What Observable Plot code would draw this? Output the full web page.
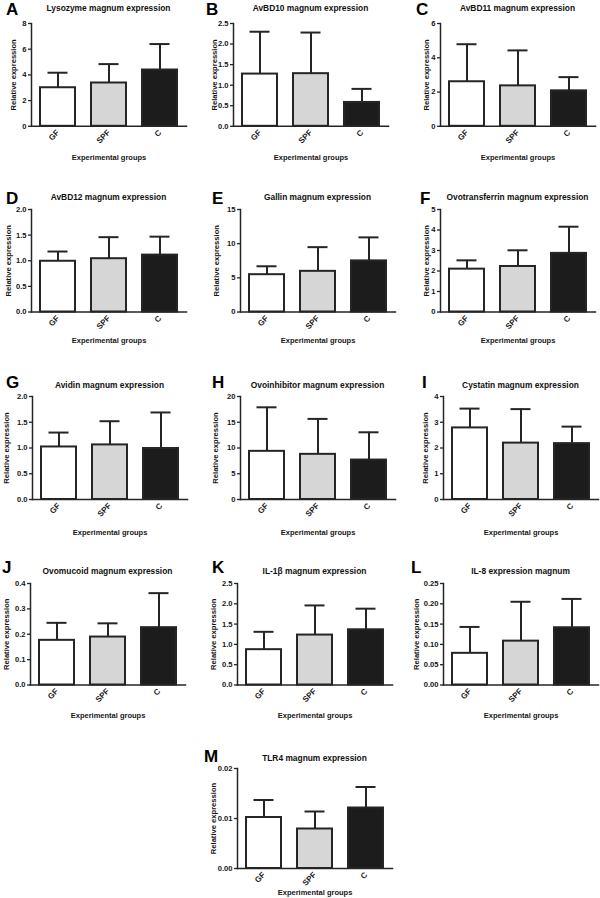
<!DOCTYPE html>
<html><head><meta charset="utf-8">
<script src="https://cdn.jsdelivr.net/npm/d3@7"></script>
<script src="https://cdn.jsdelivr.net/npm/@observablehq/plot@0.6"></script>
<style>
body{margin:0;background:#fff;}
#root{position:relative;width:600px;height:898px;overflow:hidden;font-family:"Liberation Sans",Arial,sans-serif;background:#fff;}
.panel{position:absolute;}
.letter{position:absolute;font-weight:bold;font-size:17px;line-height:17px;color:#000;}
.title{position:absolute;font-weight:bold;font-size:8.4px;line-height:9px;white-space:nowrap;transform:translateX(-50%);color:#111;}
</style></head><body><div id="root"></div>
<script>
// ---- data ----
const groups = ["GF", "SPF", "C"];
const letters = ["A","B","C","D","E","F","G","H","I","J","K","L","M"];
const titles = [
  "Lysozyme magnum expression",
  "AvBD10 magnum expression",
  "AvBD11 magnum expression",
  "AvBD12 magnum expression",
  "Gallin magnum expression",
  "Ovotransferrin magnum expression",
  "Avidin magnum expression",
  "Ovoinhibitor magnum expression",
  "Cystatin magnum expression",
  "Ovomucoid magnum expression",
  "IL-1\u03B2 magnum expression",
  "IL-8 expression magnum",
  "TLR4 magnum expression"
];
// mean per group (GF, SPF, C)
const means = [
  [3.00, 3.37, 4.38],
  [1.27, 1.28, 0.58],
  [2.60, 2.36, 2.07],
  [0.99, 1.04, 1.11],
  [5.46, 5.95, 7.48],
  [2.09, 2.22, 2.86],
  [1.02, 1.06, 0.99],
  [9.35, 8.77, 7.66],
  [2.78, 2.19, 2.17],
  [0.176, 0.189, 0.226],
  [0.87, 1.23, 1.36],
  [0.078, 0.108, 0.141],
  [0.0102, 0.0079, 0.0121]
];
// upper end of error bar (mean + SD)
const uppers = [
  [4.17, 4.84, 6.40],
  [2.30, 2.28, 0.91],
  [4.79, 4.43, 2.87],
  [1.18, 1.46, 1.47],
  [6.69, 9.49, 10.92],
  [2.52, 3.01, 4.16],
  [1.30, 1.52, 1.69],
  [17.9, 15.65, 13.05],
  [3.53, 3.51, 2.83],
  [0.245, 0.243, 0.362],
  [1.31, 1.96, 1.88],
  [0.143, 0.205, 0.212],
  [0.0137, 0.0114, 0.0163]
];
const yMaxes   = [8, 2.5, 6, 2, 15, 5, 2, 20, 4, 0.4, 2.5, 0.25, 0.02];
const ySteps   = [2, 0.5, 2, 0.5, 5, 1, 0.5, 5, 1, 0.1, 0.5, 0.05, 0.01];
const yDecimals= [0, 1, 0, 1, 0, 0, 1, 0, 0, 1, 1, 2, 2];
const yLabel = "Relative expression";
const xLabel = "Experimental groups";

// ---- layout (not data) ----
const panelCol = [0,1,2,0,1,2,0,1,2,0,1,2,1];
const panelRow = [0,0,0,1,1,1,2,2,2,3,3,3,4];
const axisLeft = [31,33,40,31,40,40,32,40,43,30,37,43,37];
const yLabCenter = [14,15,27,9,17,27,7,16,26,7,14,17,14];
const letterLeft = [6,6,16,6,12,20,6,12,22,2,12,11,4];
const rowTop   = [22.7, 208.5, 396, 582.5, 768];
const rowZero  = [125.5, 311, 499, 684, 868];
const rowXLab  = [158, 341, 533, 716, 893];
const rowTitle = [11.3, 200.7, 388, 574, 761];
const rowLetter= [15, 204, 388, 573, 762];

const root = document.getElementById("root");
const ink = "#252525";
const mt = 6, mb = 42, plotW = 155;

letters.forEach((L, i) => {
  const r = panelRow[i], c = panelCol[i];
  const x0 = c * 200;
  const ax = axisLeft[i];
  const plotH = rowZero[r] - rowTop[r];
  const data = groups.map((g, j) => ({group: g, mean: means[i][j], upper: uppers[i][j]}));
  const ticks = d3.range(0, yMaxes[i] + ySteps[i] / 2, ySteps[i]);
  const fmt = yDecimals[i] === 0 ? d3.format("d") : d3.format("." + yDecimals[i] + "f");

  const svg = Plot.plot({
    width: 200,
    height: mt + plotH + mb,
    marginTop: mt,
    marginBottom: mb,
    marginLeft: ax,
    marginRight: 200 - ax - plotW,
    style: {fontFamily: '"Liberation Sans", Arial, sans-serif', fontWeight: "bold", fontSize: "7px", color: "#161616", background: "transparent", overflow: "visible"},
    x: {domain: groups, paddingInner: 0.32, paddingOuter: 0.165},
    y: {domain: [0, yMaxes[i]]},
    color: {domain: groups, range: ["#ffffff", "#d6d6d6", "#1c1c1c"]},
    marks: [
      Plot.ruleX(data, {x: "group", y1: "mean", y2: "upper", stroke: ink, strokeWidth: 2}),
      Plot.tickY(data, {x: "group", y: "upper", stroke: ink, strokeWidth: 2, insetLeft: 7.5, insetRight: 7.5}),
      Plot.barY(data, {x: "group", y: "mean", fill: "group", stroke: ink, strokeWidth: 2}),
      Plot.frame({anchor: "left", stroke: ink, strokeWidth: 1.5}),
      Plot.frame({anchor: "bottom", stroke: ink, strokeWidth: 1.5}),
      Plot.axisY({ticks, tickFormat: fmt, tickSize: 3, tickPadding: 2, stroke: ink, strokeWidth: 1.3,
        label: yLabel, labelAnchor: "center", labelArrow: "none",
        labelOffset: ax - (yLabCenter[i] - 4), fontSize: 7.6}),
      Plot.axisX({tickRotate: -45, tickSize: 0, tickPadding: 5, fontSize: 8,
        label: null}),
      Plot.axisX({ticks: [], tickSize: 0,
        label: xLabel, labelAnchor: "center", labelArrow: "none",
        labelOffset: rowXLab[r] - rowZero[r] + 1, fontSize: 7.5})
    ]
  });
  const holder = document.createElement("div");
  holder.className = "panel";
  holder.style.left = x0 + "px";
  holder.style.top = (rowTop[r] - mt) + "px";
  holder.appendChild(svg);
  root.appendChild(holder);

  const lt = document.createElement("div");
  lt.className = "letter";
  lt.textContent = L;
  lt.style.left = (x0 + letterLeft[i]) + "px";
  lt.style.top = (rowLetter[r] - 14) + "px";
  root.appendChild(lt);

  const tt = document.createElement("div");
  tt.className = "title";
  tt.textContent = titles[i];
  tt.style.left = (x0 + ax + plotW / 2) + "px";
  tt.style.top = (rowTitle[r] - 7.5) + "px";
  root.appendChild(tt);
});
</script></body></html>
